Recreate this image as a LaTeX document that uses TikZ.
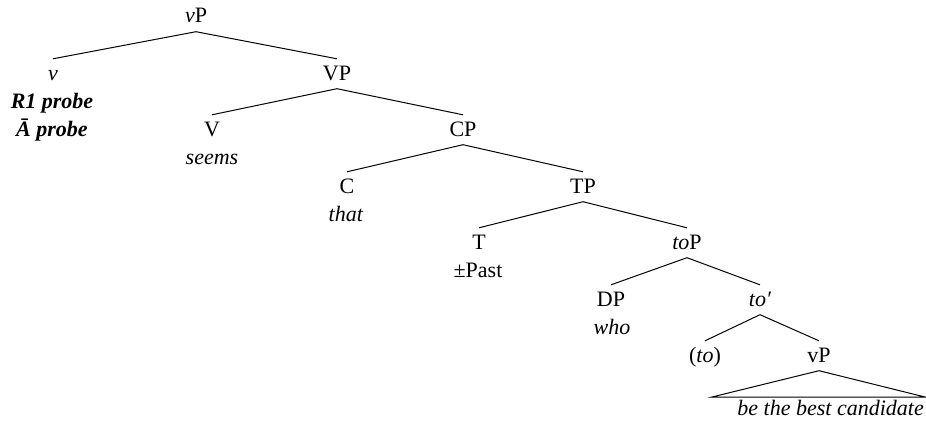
\documentclass[tikz,border=0pt]{standalone}
\usepackage{fontspec}
\setmainfont{Liberation Serif}
\begin{document}
\begin{tikzpicture}[x=1pt,y=-1pt,
  font=\fontsize{22}{28}\selectfont,
  lab/.style={anchor=base,inner sep=0pt,text height=21pt,text depth=8.5pt},
  feat/.style={anchor=base,inner sep=0pt},
  edge/.style={line width=1pt}]
\useasboundingbox (0,0) rectangle (926,423);
% nodes
\node[lab] (vP) at (196,23) {\textit{v}P};
\node[lab] (v) at (53,80) {\textit{v}};
\node[feat] (vf1) at (52,108) {\textbf{\textit{R1 probe}}};
\node[feat] (vf2) at (52,136) {\textbf{\textit{Ā probe}}};
\node[lab] (VP) at (337,80) {VP};
\node[lab] (V) at (212,136) {V};
\node[feat] (seems) at (212,164) {\textit{seems}};
\node[lab] (CP) at (463,136) {CP};
\node[lab] (C) at (347,193) {C};
\node[feat] (that) at (346,221) {\textit{that}};
\node[lab] (TP) at (583,193) {TP};
\node[lab] (T) at (479,249) {T};
\node[feat] (past) at (478,277) {±Past};
\node[lab] (toP) at (687,249) {\textit{to}P};
\node[lab] (DP) at (611,306) {DP};
\node[feat] (who) at (612,334) {\textit{who}};
\node[lab] (tobar) at (760,306) {\textit{to′}};
\node[lab] (to) at (705,362) {(\textit{to})};
\node[lab] (vP2) at (819,362) {vP};
\coordinate (tl) at (712,397);
\coordinate (tr) at (925,397);
\node[feat,anchor=base east] (cand) at (924,415) {\textit{be the best candidate}};
% edges
\draw[edge] (v.north) -- (vP.south) -- (VP.north);
\draw[edge] (V.north) -- (VP.south) -- (CP.north);
\draw[edge] (C.north) -- (CP.south) -- (TP.north);
\draw[edge] (T.north) -- (TP.south) -- (toP.north);
\draw[edge] (DP.north) -- (toP.south) -- (tobar.north);
\draw[edge] (to.north) -- (tobar.south) -- (vP2.north);
\draw[edge] (vP2.south) -- (tl) -- (tr) -- cycle;
\end{tikzpicture}
\end{document}
